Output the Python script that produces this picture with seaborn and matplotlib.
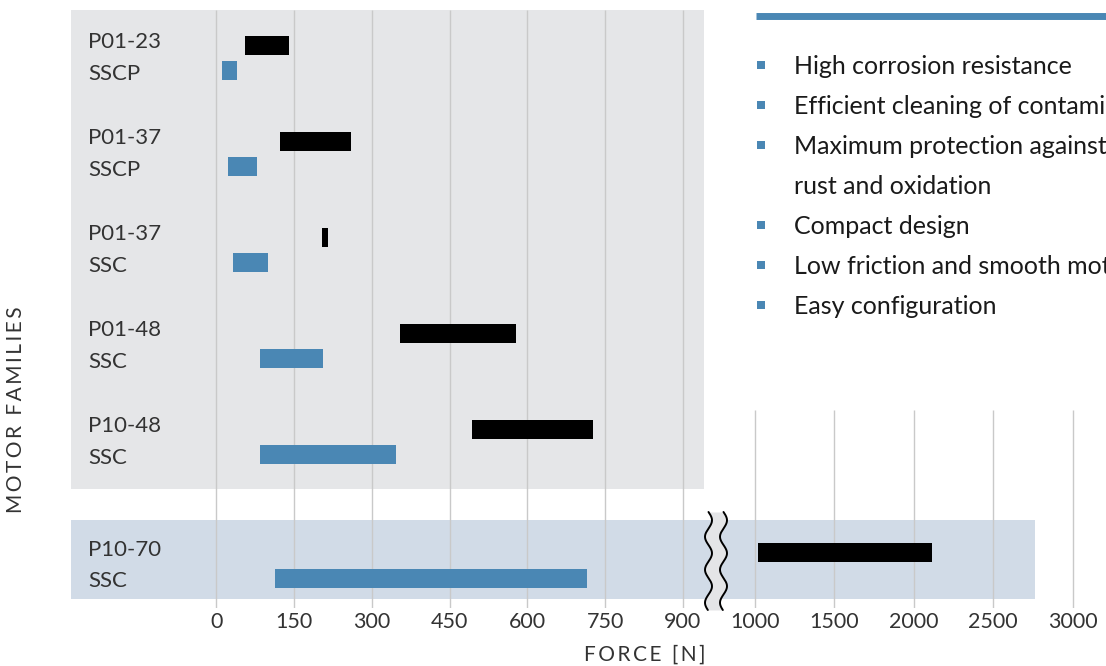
import numpy as np
import pandas as pd
import matplotlib
matplotlib.use("Agg")
import matplotlib.pyplot as plt
import seaborn as sns
from matplotlib.transforms import blended_transform_factory

# ---------------- data ----------------
families = ["P01-23", "P01-37", "P01-37", "P01-48", "P10-48", "P10-70"]
variants = ["SSCP", "SSCP", "SSC", "SSC", "SSC", "SSC"]
group = [0, 0, 0, 0, 0, 1]
peak_start = [55, 122, 204, 355, 493, 1020]
peak_end = [140, 260, 215, 578, 726, 2115]
cont_start = [10, 22, 32, 84, 84, 113]
cont_end = [40, 78, 100, 206, 346, 715]
left_ticks = [0, 150, 300, 450, 600, 750, 900]
right_ticks = [1000, 1500, 2000, 2500, 3000]
features = [
    ("High corrosion resistance", True),
    ("Efficient cleaning of contaminants", True),
    ("Maximum protection against", True),
    ("rust and oxidation", False),
    ("Compact design", True),
    ("Low friction and smooth motion", True),
    ("Easy configuration", True),
]

df = pd.DataFrame({"family": families, "variant": variants, "group": group,
                   "peak_start": peak_start, "peak_end": peak_end,
                   "cont_start": cont_start, "cont_end": cont_end})

# ---------------- style ----------------
sns.set_theme(style="white")
FONTS = ["Lato", "DejaVu Sans"]
plt.rcParams["font.family"] = FONTS

BLUE = "#4a87b4"
GRAY_PANEL = "#e5e6e8"
BLUE_PANEL = "#d1dbe7"
GRID = "#c9c9c9"
TXT = "#333333"

W, H = 1106, 666
fig = plt.figure(figsize=(W / 100, H / 100), dpi=100)


def rect(x0, y0, x1, y1):
    return [x0 / W, 1 - y1 / H, (x1 - x0) / W, (y1 - y0) / H]


ax1 = fig.add_axes(rect(71, 10, 716, 608))
ax2 = fig.add_axes(rect(716, 10, 1106, 608), sharey=ax1)

ROW_PX = 96.0
y_top, y_bot = -0.5, -0.5 + 598 / ROW_PX
ax1.set_ylim(y_bot, y_top)
ax1.set_xlim(-280.7, 963.7)
ax2.set_xlim(754.5, 3209.6)

ypos = np.arange(len(df)) + 0.29 * df["group"].to_numpy()
off, bh = 0.135, 0.198

# panels
ax1.axhspan(y_top, 4.49, xmin=0, xmax=(704 - 71) / 645, color=GRAY_PANEL, lw=0, zorder=0)
ax1.axhspan(4.8125, 5.635, color=BLUE_PANEL, lw=0, zorder=0)
ax2.axhspan(4.8125, 5.635, xmin=0, xmax=(1035 - 716) / 390, color=BLUE_PANEL, lw=0, zorder=0)

# grid lines
ax1.vlines(left_ticks, y_top, y_bot, color=GRID, lw=1.0, zorder=1)
ax2.vlines(right_ticks, (410 - 10) / ROW_PX - 0.5, y_bot, color=GRID, lw=1.0, zorder=1)

# bars
for ax in (ax1, ax2):
    ax.barh(ypos - off, df["peak_end"] - df["peak_start"], left=df["peak_start"],
            height=bh, color="black", lw=0, zorder=3)
    ax.barh(ypos + off, df["cont_end"] - df["cont_start"], left=df["cont_start"],
            height=bh, color=BLUE, lw=0, zorder=3)
    ax.set_yticks([])
    ax.tick_params(axis="x", length=0, pad=3, labelsize=15.5, labelcolor=TXT)
    for s in ax.spines.values():
        s.set_visible(False)
    ax.patch.set_alpha(0)

ax1.set_xticks(left_ticks)
ax2.set_xticks(right_ticks)

# row labels
tr = blended_transform_factory(ax1.transAxes, ax1.transData)
for y, fam, var in zip(ypos, df["family"], df["variant"]):
    ax1.text((88 - 71) / 645, y - 0.104, fam, transform=tr, va="baseline", ha="left",
             fontsize=16, color=TXT, zorder=4)
    ax1.text((88 - 71) / 645, y + 0.224, var, transform=tr, va="baseline", ha="left",
             fontsize=16, color=TXT, zorder=4)

# overlay in pixel coordinates for decorations
ov = fig.add_axes([0, 0, 1, 1], zorder=10)
ov.set_xlim(0, W)
ov.set_ylim(H, 0)
ov.axis("off")
ov.patch.set_alpha(0)

# axis break symbol
yy = np.linspace(512, 610, 300)
xl = 708.5 + 3.5 * np.sin(2 * np.pi * (yy - 512) / 33.0)
xr = xl + 15
ov.fill_betweenx(yy, xl, xr, color="#e4e5e7", lw=0)
ov.plot(xl, yy, color="black", lw=1.4)
ov.plot(xr, yy, color="black", lw=1.4)

# feature box
ov.plot([756, 1106], [15.5, 15.5], color=BLUE, lw=5, solid_capstyle="butt")
for i, (txt, bullet) in enumerate(features):
    y = 66 + 40 * i
    if bullet:
        ov.plot(761, y - 1, marker="s", ms=5.5, color=BLUE, mew=0)
    ov.text(794, y, txt, va="center", ha="left", fontsize=18, color="#1a1a1a", clip_on=False)

# axis titles
hs = "\u200a\u200a"
ws = hs + " " + hs
ov.text(644.5, 655, hs.join("FORCE") + ws + hs.join("[N]"), ha="center", va="center",
        fontsize=15, color=TXT, family=FONTS)
ov.text(16, 410, hs.join("MOTOR") + ws + hs.join("FAMILIES"), ha="center", va="center",
        rotation=90, fontsize=15, color=TXT, family=FONTS)

fig.savefig("out.png", dpi=100)
